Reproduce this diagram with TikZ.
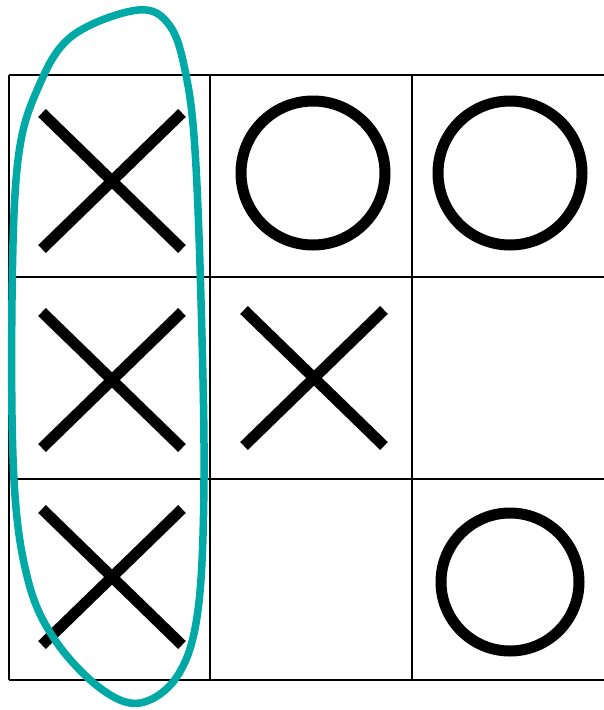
\documentclass[tikz,border=0pt]{standalone}
\definecolor{loopteal}{RGB}{0,168,166}
\begin{document}
\begin{tikzpicture}[x=1pt,y=-1pt,
  gridline/.style={line width=1.8pt,black},
  xmark/.style={line width=11pt,black},
  omark/.style={line width=11pt,black},
  loopline/.style={line width=7.5pt,loopteal,line cap=round,line join=round}]
\useasboundingbox (0,0) rectangle (604,710);
% grid
\draw[gridline] (9,75) -- (610,75);
\draw[gridline] (9,277) -- (610,277);
\draw[gridline] (9,479) -- (610,479);
\draw[gridline] (9,680) -- (610,680);
\draw[gridline] (9,75) -- (9,680);
\draw[gridline] (210,75) -- (210,680);
\draw[gridline] (412,75) -- (412,680);
% X marks
\foreach \cx/\cy in {112/181, 112/380, 314/378, 112/577}{
  \draw[xmark] (\cx-70,\cy-68) -- (\cx+70,\cy+68);
  \draw[xmark] (\cx+70,\cy-68) -- (\cx-70,\cy+68);
}
% O marks
\draw[omark] (313,173) circle (72);
\draw[omark] (510,173) circle (72);
\draw[omark] (510,582) circle (69);
% teal loop
\draw[loopline] plot[smooth cycle, tension=0.6] coordinates {
  (72,36) (138,10) (170,26) (186,75) (195,150) (201,300) (204,480)
  (198,610) (178,675) (140,703) (100,688) (55,640) (28,580)
  (14,480) (12,300) (18,160) (38,88)};
\end{tikzpicture}
\end{document}
